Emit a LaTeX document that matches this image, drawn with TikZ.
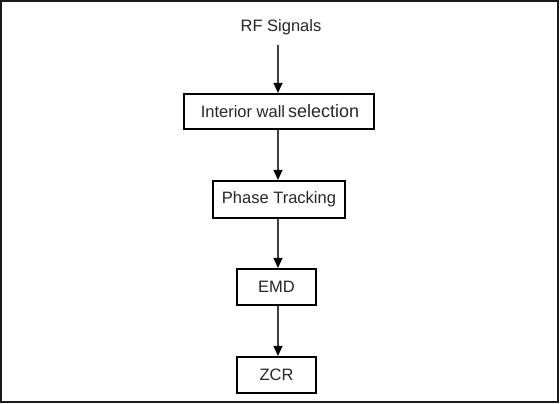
\documentclass[tikz,border=0pt]{standalone}
\usepackage{fontspec}
\setmainfont{Liberation Sans}
\usetikzlibrary{arrows.meta}
\begin{document}
\begin{tikzpicture}[x=1pt,y=-1pt,
  stepbox/.style={draw=black,line width=2.2pt,minimum height=36pt,inner sep=0pt,
    font=\fontsize{16.5}{18}\selectfont,text=black!85},
  arr/.style={draw=black!75,line width=1.2pt,-{Triangle[length=10pt,width=9pt,fill=black,color=black]}},
  frame/.style={draw=black!90,line width=2pt}]
\useasboundingbox (0,0) rectangle (560,404);
\draw[frame] (1,1) rectangle (558,402);
\coordinate (sp) at (278,0);
\node[font=\fontsize{16.5}{18}\selectfont,text=black!85] (rf) at (281,27) {RF Signals};
\node[stepbox,minimum width=190pt,minimum height=35pt] (iw) at (279,111.5)
  {\hspace{2pt}Interior wall\hspace{3pt}{\fontsize{18}{20}\selectfont selection}};
\node[stepbox,minimum width=132pt,minimum height=37pt] (pt) at (279,199.5) {Phase Tracking};
\node[stepbox,minimum width=79pt] (emd) at (276.5,287) {EMD};
\node[stepbox,minimum width=79pt] (zcr) at (276.5,375) {ZCR};
\draw[arr] (rf.south -| sp) ++(0,7) -- (iw.north -| sp);
\draw[arr] (iw.south -| sp) -- (pt.north -| sp);
\draw[arr] (pt.south -| sp) -- (emd.north -| sp);
\draw[arr] (emd.south -| sp) -- (zcr.north -| sp);
\end{tikzpicture}
\end{document}
